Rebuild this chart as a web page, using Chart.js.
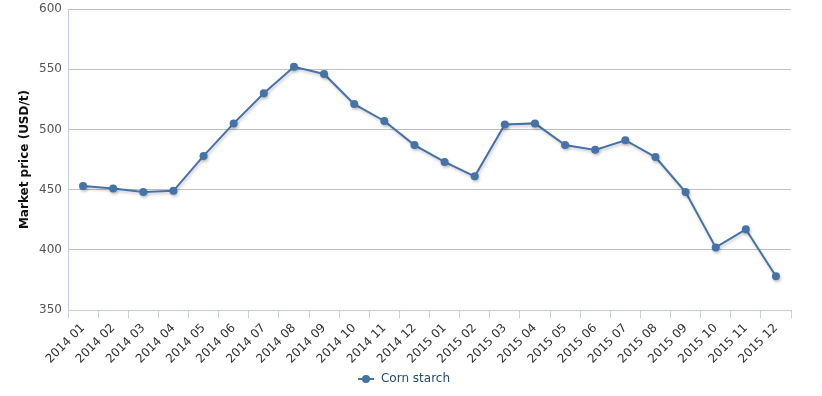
<!DOCTYPE html>
<html>
<head>
<meta charset="utf-8">
<script src="https://cdn.jsdelivr.net/npm/chart.js@4"></script>
<style>
  html, body { margin: 0; padding: 0; background: #fff; }
  #wrap { width: 822px; height: 396px; position: relative; }
</style>
</head>
<body>
<div id="wrap"><canvas id="priceChart"></canvas></div>
<script>
// months shown on the x axis
const months = [
  '2014 01', '2014 02', '2014 03', '2014 04', '2014 05', '2014 06',
  '2014 07', '2014 08', '2014 09', '2014 10', '2014 11', '2014 12',
  '2015 01', '2015 02', '2015 03', '2015 04', '2015 05', '2015 06',
  '2015 07', '2015 08', '2015 09', '2015 10', '2015 11', '2015 12'
];

// corn starch market price, USD/t
const cornStarch = [
  453, 451, 448, 449, 478, 505,
  530, 552, 546, 521, 507, 487,
  473, 461, 504, 505, 487, 483,
  491, 477, 448, 402, 417, 378
];

const yTicks = [350, 400, 450, 500, 550, 600];

const FONT = '"DejaVu Sans", Verdana, sans-serif';
const BLUE = '#4572A7';

// legend symbol: short line with a dot in the middle
function legendSymbol() {
  const c = document.createElement('canvas');
  c.width = 18; c.height = 10;
  const g = c.getContext('2d');
  g.strokeStyle = BLUE;
  g.lineWidth = 2;
  g.beginPath(); g.moveTo(1, 5); g.lineTo(17, 5); g.stroke();
  g.fillStyle = BLUE;
  g.beginPath(); g.arc(9, 5, 4, 0, Math.PI * 2); g.fill();
  return c;
}

// soft shadow under the line, like the original
const lineShadow = {
  id: 'lineShadow',
  beforeDatasetDraw(chart) {
    const ctx = chart.ctx;
    ctx.save();
    ctx.shadowColor = 'rgba(0,0,0,0.22)';
    ctx.shadowBlur = 3;
    ctx.shadowOffsetX = 1;
    ctx.shadowOffsetY = 2;
  },
  afterDatasetDraw(chart) {
    chart.ctx.restore();
  }
};

document.addEventListener('DOMContentLoaded', function () {
  const ctx = document.getElementById('priceChart').getContext('2d');
  const symbol = legendSymbol();

  new Chart(ctx, {
    type: 'line',
    data: {
      labels: months,
      datasets: [{
        label: 'Corn starch',
        data: cornStarch,
        borderColor: BLUE,
        backgroundColor: BLUE,
        borderWidth: 2,
        pointRadius: 4,
        pointBackgroundColor: BLUE,
        pointBorderWidth: 0,
        tension: 0,
        fill: false
      }]
    },
    options: {
      responsive: true,
      maintainAspectRatio: false,
      animation: false,
      layout: { padding: { left: 16, right: 31, top: 9, bottom: 1 } },
      plugins: {
        tooltip: { enabled: false },
        legend: {
          position: 'bottom',
          labels: {
            color: '#274b6d',
            font: { family: FONT, size: 12 },
            usePointStyle: true,
            pointStyleWidth: 18,
            padding: 10,
            generateLabels(chart) {
              const items = Chart.defaults.plugins.legend.labels.generateLabels(chart);
              items.forEach(it => { it.pointStyle = symbol; });
              return items;
            }
          }
        }
      },
      scales: {
        x: {
          offset: true,
          border: { color: '#C0D0E0', width: 1 },
          grid: {
            display: true,
            offset: true,
            drawOnChartArea: false,
            drawTicks: true,
            tickLength: 8,
            tickColor: '#C0D0E0'
          },
          ticks: {
            color: '#333',
            font: { family: FONT, size: 12 },
            minRotation: 45,
            maxRotation: 45,
            autoSkip: false,
            padding: 3
          },
          afterFit(scale) { scale.height = 53; }
        },
        y: {
          min: yTicks[0],
          max: yTicks[yTicks.length - 1],
          border: { color: '#C0D0E0', width: 1 },
          grid: { color: '#C0C0C0', drawTicks: false },
          afterBuildTicks(scale) {
            scale.ticks = yTicks.map(v => ({ value: v }));
          },
          ticks: {
            color: '#555',
            font: { family: FONT, size: 12 },
            padding: 6
          },
          title: {
            display: true,
            text: 'Market price (USD/t)',
            color: '#111',
            font: { family: FONT, size: 12, weight: 'bold' },
            padding: { top: 2, bottom: 0 }
          },
          afterFit(scale) {
            scale.width = 52;
            scale.paddingTop = 0;
            scale.paddingBottom = 0;
          }
        }
      }
    },
    plugins: [lineShadow]
  });
});
</script>
</body>
</html>
